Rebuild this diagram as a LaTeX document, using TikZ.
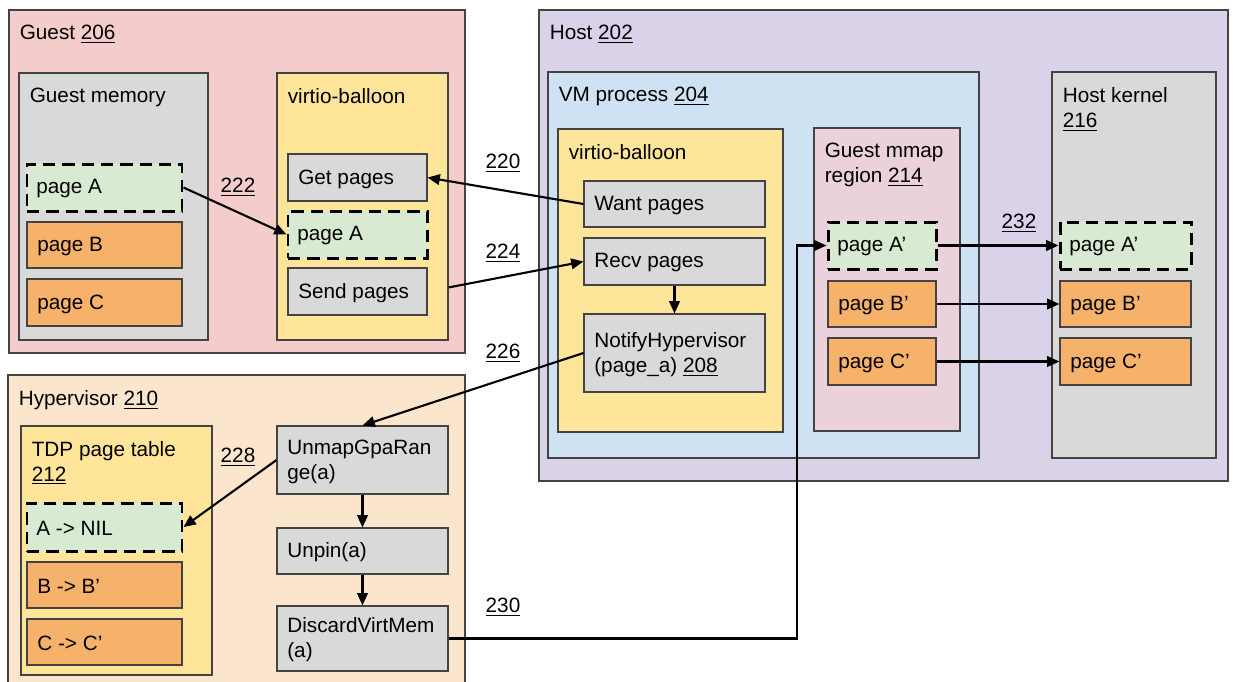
\documentclass[tikz,border=0pt]{standalone}
\usepackage{fontspec}
\setmainfont{Liberation Sans}
\usetikzlibrary{fit,arrows.meta}
\definecolor{cguest}{HTML}{F4CCCC}
\definecolor{cgray}{HTML}{D9D9D9}
\definecolor{cgreen}{HTML}{D9EAD3}
\definecolor{corange}{HTML}{F6B26B}
\definecolor{cyellow}{HTML}{FFE599}
\definecolor{chost}{HTML}{D9D2E9}
\definecolor{cvm}{HTML}{CFE2F3}
\definecolor{cmmap}{HTML}{EAD1DC}
\definecolor{chyp}{HTML}{FCE5CD}
\definecolor{cedge}{HTML}{434343}
\begin{document}
\begin{tikzpicture}[x=0.02cm,y=-0.02cm,
  every node/.style={font=\fontsize{11.8}{14.2}\selectfont},
  box/.style={draw=cedge, line width=0.6pt, inner sep=0pt, fill=#1},
  dbox/.style={draw=black, line width=1.7pt, dash pattern=on 7pt off 4pt, inner sep=0pt, fill=cgreen},
  ttl/.style={label={[anchor=north west, inner sep=0pt, xshift=0.22cm, yshift=-0.31cm, align=left]north west:#1}},
  itxt/.style={label={[anchor=west, inner sep=0pt, xshift=0.21cm, yshift=-0.03cm, align=left]west:#1}},
  num/.style={inner sep=0pt},
  arr/.style={-{Triangle[length=7pt,width=6pt]}, line width=1.2pt, black}
]
\fill[white] (0,0) rectangle (1233,681);
\clip (0,0) rectangle (1233,681);

% Guest
\node[box=cguest, fit={(9,10)(465,353)}, ttl={Guest \underline{206}}] (guest) {};
\node[box=cgray, fit={(19,73)(208,340)}, ttl={Guest memory}] (gmem) {};
\node[dbox, fit={(27,164)(182,211)}, itxt={page A}] (gA) {};
\node[box=corange, fit={(27,222)(182,268)}, itxt={page B}] (gB) {};
\node[box=corange, fit={(27,279)(182,326)}, itxt={page C}] (gC) {};
\node[box=cyellow, fit={(277,73)(448,340)}, ttl={virtio-balloon}] (gvb) {};
\node[box=cgray, fit={(288,154)(427,201)}, itxt={Get pages}] (get) {};
\node[dbox, fit={(288,211)(427,258)}, itxt={page A}] (bA) {};
\node[box=cgray, fit={(288,268)(427,315)}, itxt={Send pages}] (send) {};

% Host
\node[box=chost, fit={(539,10)(1228,481)}, ttl={Host \underline{202}}] (host) {};
\node[box=cvm, fit={(548,72)(979,458)}, ttl={VM process \underline{204}}] (vm) {};
\node[box=cyellow, fit={(558,129)(783,432)}, ttl={virtio-balloon}] (hvb) {};
\node[box=cgray, fit={(584,181)(765,227)}, itxt={Want pages}] (want) {};
\node[box=cgray, fit={(584,238)(765,285)}, itxt={Recv pages}] (recv) {};
\node[box=cgray, fit={(584,314)(765,392)}, itxt={NotifyHypervisor\\(page\_a) \underline{208}}] (notify) {};
\node[box=cmmap, fit={(814,128)(960,431)}, ttl={Guest mmap\\region \underline{214}}] (mmap) {};
\node[dbox, fit={(828,222)(936,269)}, itxt={page A’}] (mA) {};
\node[box=corange, fit={(828,281)(936,327)}, itxt={page B’}] (mB) {};
\node[box=corange, fit={(828,338)(936,385)}, itxt={page C’}] (mC) {};
\node[box=cgray, fit={(1052,72)(1216,458)}, ttl={Host kernel\\\underline{216}}] (hk) {};
\node[dbox, fit={(1060,222)(1191,269)}, itxt={page A’}] (kA) {};
\node[box=corange, fit={(1060,281)(1191,327)}, itxt={page B’}] (kB) {};
\node[box=corange, fit={(1060,338)(1191,385)}, itxt={page C’}] (kC) {};

% Hypervisor
\node[box=chyp, fit={(8,375)(465,700)}, ttl={Hypervisor \underline{210}}] (hyp) {};
\node[box=cyellow, fit={(21,426)(212,675)}, ttl={TDP page table\\\underline{212}}] (tdp) {};
\node[dbox, fit={(27,503)(182,551)}, itxt={A -> NIL}] (tA) {};
\node[box=corange, fit={(27,562)(182,608)}, itxt={B -> B’}] (tB) {};
\node[box=corange, fit={(27,619)(182,665)}, itxt={C -> C’}] (tC) {};
\node[box=cgray, fit={(277,426)(448,494)}, itxt={UnmapGpaRan\\ge(a)}] (unmap) {};
\node[box=cgray, fit={(277,528)(448,574)}, itxt={Unpin(a)}] (unpin) {};
\node[box=cgray, fit={(277,606)(448,671)}, itxt={DiscardVirtMem\\(a)}] (disc) {};

% connector labels
\node[num] (n222) at (238,187) {\underline{222}};
\node[num] (n220) at (503,163) {\underline{220}};
\node[num] (n224) at (503,253) {\underline{224}};
\node[num] (n226) at (503,353) {\underline{226}};
\node[num] (n228) at (238,457) {\underline{228}};
\node[num] (n230) at (503,607) {\underline{230}};
\node[num] (n232) at (1019,223) {\underline{232}};

% connectors
\coordinate (c230) at (797,0);
\draw[arr] (gA.east) -- (bA.west);
\draw[arr] (want.west) -- (get.east);
\draw[arr, shorten <=0.43cm] (send.east) -- (recv.west);
\draw[arr] (recv.south) -- (notify.north);
\draw[arr] (notify.west) -- (unmap.north);
\draw[arr] (unmap.west) -- (tA.east);
\draw[arr] (unmap.south) -- (unpin.north);
\draw[arr] (unpin.south) -- (disc.north);
\draw[arr] (disc.east) -- (disc.east -| c230) -- (c230 |- mA.west) -- (mA.west);
\draw[arr] (mA.east) -- (kA.west);
\draw[arr] (mB.east) -- (kB.west);
\draw[arr] (mC.east) -- (kC.west);
\end{tikzpicture}
\end{document}
